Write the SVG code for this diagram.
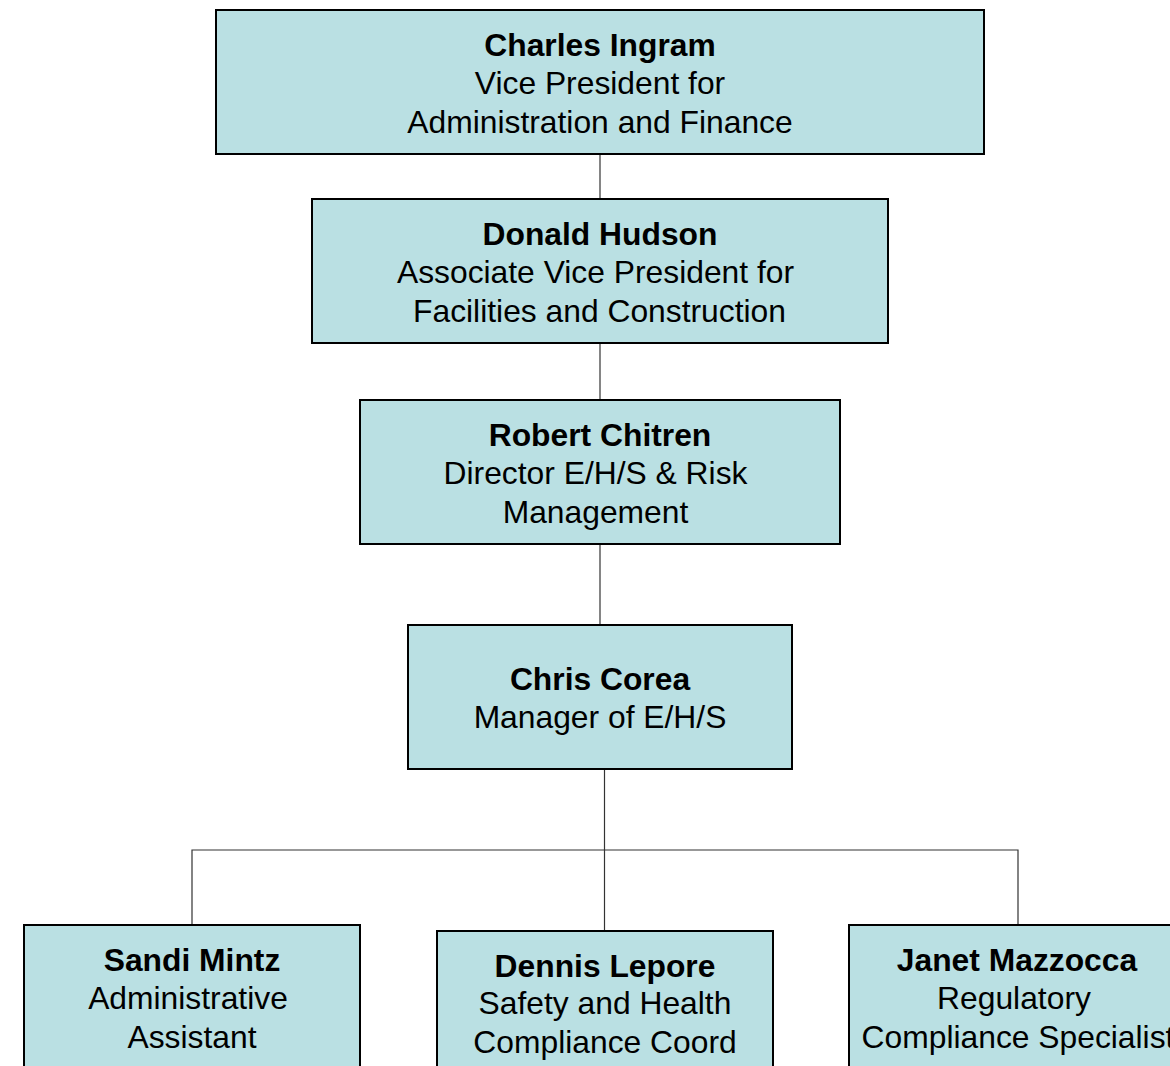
<svg xmlns="http://www.w3.org/2000/svg" width="1170" height="1066" viewBox="0 0 1170 1066">
<style>
.box{fill:#BAE0E3;stroke:#000;stroke-width:2}
.c{fill:none;stroke:#333;stroke-width:1.2}
text{font-family:"Liberation Sans",Arial,sans-serif;font-size:31.8px;fill:#000;text-anchor:middle}
.b{font-weight:bold}
</style>
<rect width="1170" height="1066" fill="#fff"/>
<g id="connectors">
<line class="c" x1="600" y1="154" x2="600" y2="199"/>
<line class="c" x1="600" y1="343" x2="600" y2="400"/>
<line class="c" x1="600" y1="544" x2="600" y2="625"/>
<line class="c" x1="604.5" y1="769" x2="604.5" y2="931"/>
<polyline class="c" points="192,925 192,850 1018,850 1018,925"/>
</g>
<g id="charles">
<rect class="box" x="216" y="10" width="768" height="144"/>
<text class="b" x="600" y="56">Charles Ingram</text>
<text x="600" y="94">Vice President for</text>
<text x="600" y="133">Administration and Finance</text>
</g>
<g id="donald">
<rect class="box" x="312" y="199" width="576" height="144"/>
<text class="b" x="600" y="245">Donald Hudson</text>
<text x="595.5" y="283">Associate Vice President for</text>
<text x="599.5" y="322">Facilities and Construction</text>
</g>
<g id="robert">
<rect class="box" x="360" y="400" width="480" height="144"/>
<text class="b" x="600" y="446">Robert Chitren</text>
<text x="595.5" y="484">Director E/H/S &amp; Risk</text>
<text x="595.5" y="523">Management</text>
</g>
<g id="chris">
<rect class="box" x="408" y="625" width="384" height="144"/>
<text class="b" x="600" y="690">Chris Corea</text>
<text x="600" y="728">Manager of E/H/S</text>
</g>
<g id="sandi">
<rect class="box" x="24" y="925" width="336" height="160"/>
<text class="b" x="192" y="971">Sandi Mintz</text>
<text x="188" y="1009">Administrative</text>
<text x="192" y="1048">Assistant</text>
</g>
<g id="dennis">
<rect class="box" x="437" y="931" width="336" height="160"/>
<text class="b" x="605" y="977">Dennis Lepore</text>
<text x="605" y="1014">Safety and Health</text>
<text x="605" y="1053">Compliance Coord</text>
</g>
<g id="janet">
<rect class="box" x="849" y="925" width="336" height="160"/>
<text class="b" x="1017" y="971">Janet Mazzocca</text>
<text x="1014" y="1009">Regulatory</text>
<text x="1018" y="1048">Compliance Specialist</text>
</g>
</svg>
